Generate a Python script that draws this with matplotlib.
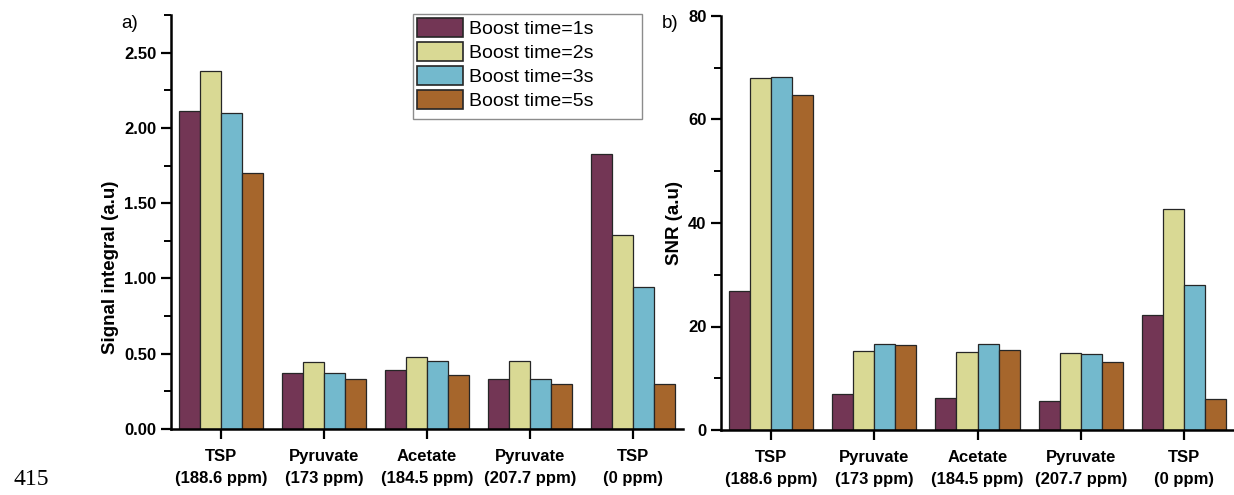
import matplotlib.pyplot as plt
import numpy as np
from matplotlib.patches import Rectangle
from matplotlib.ticker import MultipleLocator, FormatStrFormatter

# data
categories = ['TSP\n(188.6 ppm)', 'Pyruvate\n(173 ppm)', 'Acetate\n(184.5 ppm)',
              'Pyruvate\n(207.7 ppm)', 'TSP\n(0 ppm)']
series = ['Boost time=1s', 'Boost time=2s', 'Boost time=3s', 'Boost time=5s']

integral_1s = [2.11, 0.37, 0.39, 0.335, 1.83]
integral_2s = [2.375, 0.445, 0.48, 0.45, 1.29]
integral_3s = [2.10, 0.372, 0.455, 0.335, 0.94]
integral_5s = [1.70, 0.333, 0.357, 0.30, 0.297]

snr_1s = [26.8, 6.9, 6.1, 5.7, 22.2]
snr_2s = [68.1, 15.3, 15.1, 14.9, 42.7]
snr_3s = [68.3, 16.7, 16.7, 14.7, 28.0]
snr_5s = [64.8, 16.5, 15.4, 13.1, 6.0]

colors = ['#733655', '#d9d994', '#73b9cd', '#a6662c']

plt.rcParams['font.family'] = ['Liberation Sans', 'DejaVu Sans']

fig = plt.figure(figsize=(12.34, 4.95), dpi=100)
ax1 = fig.add_axes([171/1234, 66/495, 512/1234, 414/495])
ax2 = fig.add_axes([721/1234, 65/495, 513/1234, 414/495])

x = np.arange(len(categories))
w = 0.204
offsets = (np.arange(4) - 1.5) * w


def draw(ax, data, ylim, major, minor, fmt, ylabel, lab_x, lab_y):
    bars = []
    for i, vals in enumerate(data):
        b = ax.bar(x + offsets[i], vals, w, color=colors[i], edgecolor='#262626',
                   linewidth=0.9, label=series[i])
        bars.append(b)
    ax.set_xlim(-0.485, 4.485)
    ax.set_ylim(*ylim)
    ax.yaxis.set_major_locator(MultipleLocator(major))
    ax.yaxis.set_minor_locator(MultipleLocator(minor))
    ax.yaxis.set_major_formatter(FormatStrFormatter(fmt))
    ax.set_xticks(x)
    ax.set_xticklabels(categories, fontweight='bold', fontsize=12, linespacing=1.55)
    for s in ['top', 'right']:
        ax.spines[s].set_visible(False)
    for s in ['left', 'bottom']:
        ax.spines[s].set_linewidth(1.8)
    ax.tick_params(axis='both', which='major', direction='out', length=7.5, width=1.6)
    ax.tick_params(axis='y', which='minor', direction='out', length=5, width=1.4)
    ax.tick_params(axis='y', labelsize=12, pad=3)
    ax.tick_params(axis='x', pad=7)
    for t in ax.get_yticklabels():
        t.set_fontweight('bold')
    ax.set_ylabel(ylabel, fontweight='bold', fontsize=13.5)
    ax.yaxis.set_label_coords(lab_x, lab_y)
    return bars


bars = draw(ax1, [integral_1s, integral_2s, integral_3s, integral_5s], (0, 2.75),
            0.5, 0.25, '%.2f', 'Signal integral (a.u)', -0.1016, 0.39)
draw(ax2, [snr_1s, snr_2s, snr_3s, snr_5s], (0, 80), 20, 10, '%d', 'SNR (a.u)',
     -0.074, 0.5)

# legend with a wide grey frame
leg = fig.legend(handles=bars, labels=series, loc='upper left',
                 bbox_to_anchor=(413/1234, 1 - 14/495), frameon=False,
                 fontsize=14, handlelength=2.37, handleheight=1.13,
                 labelspacing=0.2, handletextpad=0.3, borderpad=0.2,
                 borderaxespad=0)
for h in leg.legend_handles:
    h.set_edgecolor('#262626')
    h.set_linewidth(1.2)
fig.patches.append(Rectangle((413/1234, 1 - 119/495), 229/1234, 105/495,
                             transform=fig.transFigure, fill=False,
                             edgecolor='#8c8c8c', linewidth=1.0))

fig.text(121/1234, 1 - 15/495, 'a)', fontsize=13.5, va='top', ha='left')
fig.text(662/1234, 1 - 15/495, 'b)', fontsize=13.5, va='top', ha='left')
fig.text(13/1234, 1 - 485/495, '415', fontsize=17, family='Liberation Serif',
         va='baseline', ha='left')

fig.savefig('out.png', dpi=100)
